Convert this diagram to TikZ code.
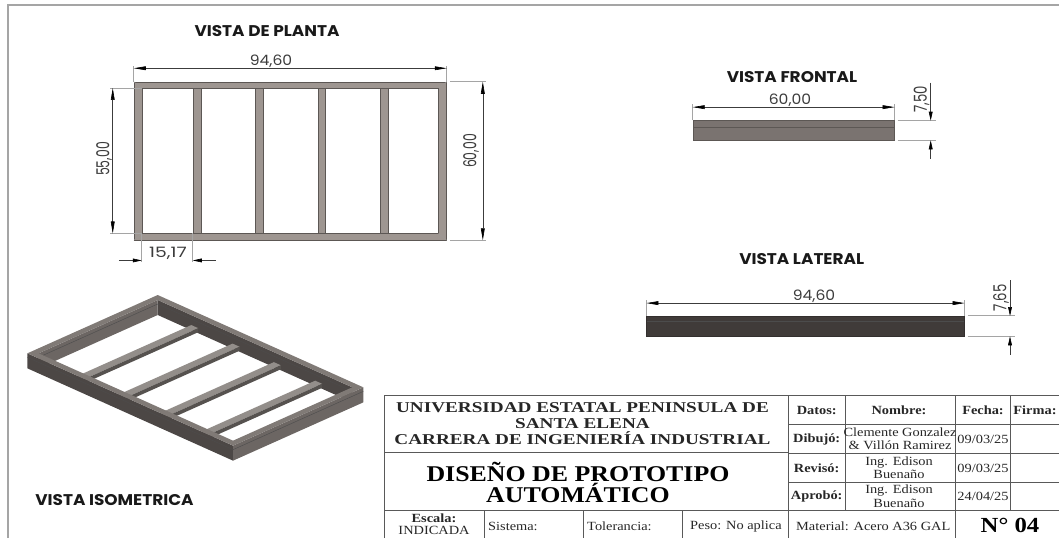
\documentclass[tikz,border=0pt]{standalone}
\usepackage{fontspec}
\usepackage{xcolor}
\usetikzlibrary{arrows.meta}
\setmainfont{Liberation Serif}[FakeStretch=1.15]
\setsansfont{Poppins}[FakeStretch=1.09]
\newfontfamily\anchafont{Liberation Serif}[FakeStretch=1.28]
\definecolor{marcogris}{RGB}{165, 165, 165}
\definecolor{acero}{RGB}{158, 150, 145}
\definecolor{aceroborde}{RGB}{92, 87, 84}
\definecolor{cotagris}{RGB}{60, 60, 60}
\definecolor{frontalgris}{RGB}{122, 115, 112}
\definecolor{lateralgris}{RGB}{64, 59, 57}
\definecolor{isotapa}{RGB}{128, 122, 118}
\definecolor{isomuroa}{RGB}{76, 71, 69}
\definecolor{isomurob}{RGB}{108, 102, 99}

\begin{document}
\begin{tikzpicture}[x=1pt, y=-1pt,
    vista/.style={font=\sffamily\bfseries\fontsize{15.5}{16}\selectfont, text=black!90, inner sep=0pt},
    cota/.style={font=\sffamily\fontsize{14.3}{15}\selectfont, text=cotagris, inner sep=0pt},
    cotav/.style={cota, rotate=90},
    dim/.style={draw=cotagris, line width=0.6pt, {Stealth[length=12pt,width=3.8pt,inset=0pt,black]}-{Stealth[length=12pt,width=3.8pt,inset=0pt,black]}},
    flecha/.style={draw=cotagris, line width=0.6pt, -{Stealth[length=9pt,width=3.8pt,inset=0pt,black]}},
    aux/.style={draw=marcogris, line width=0.7pt},
    barra/.style={draw=aceroborde, line width=0.5pt, fill=acero, inner sep=0pt, minimum height=145pt},
    tabla/.style={draw=black!65, line width=0.7pt},
    celda/.style={font=\fontsize{12.5}{13.5}\selectfont, inner sep=0pt, align=center, text=black!85},
    celdab/.style={celda, font=\bfseries\fontsize{12.5}{13.5}\selectfont},
    encabezado/.style={celda, font=\anchafont\bfseries\fontsize{15}{16}\selectfont},
    titulo/.style={celda, font=\bfseries\fontsize{22.5}{21.5}\selectfont, text=black}]
    \useasboundingbox (0,0) rectangle (1059,538);

    % Marco
    \draw[marcogris, line width=1.5pt] (8,538) -- (8,5) -- (1059,5);

    % Vista de planta
    \node[vista] (tplanta) at (267,31) {VISTA DE PLANTA};
    \node[draw=aceroborde, line width=0.5pt, fill=acero, inner sep=0pt, minimum width=312.5pt, minimum height=158pt] (planta) at (290.3,161) {};
    \node[draw=aceroborde, line width=0.5pt, fill=white, inner sep=0pt, minimum width=296pt, minimum height=145pt] (hueco) at (290,160.7) {};
    \draw[aceroborde!60, line width=0.4pt] (planta.north west) -- (hueco.north west) (planta.north east) -- (hueco.north east)
        (planta.south west) -- (hueco.south west) (planta.south east) -- (hueco.south east);
    \node[barra, minimum width=8pt] (barra1) at (197,160.7) {};
    \node[barra, minimum width=8pt] (barra2) at (259,160.7) {};
    \node[barra, minimum width=7.5pt] (barra3) at (321.5,160.7) {};
    \node[barra, minimum width=8pt] (barra4) at (384,160.7) {};

    % Cotas de planta
    \draw[aux] (planta.north west) -- ++(0,-16);
    \draw[aux] (planta.north east) -- ++(0,-16);
    \draw[dim] ([yshift=13.5pt]planta.north west) -- ([yshift=13.5pt]planta.north east);
    \node[cota] (c9460) at (271,61) {94,60};
    \draw[aux] (planta.north east) ++(3,0) -- ++(36,0);
    \draw[aux] (planta.south east) ++(3,0) -- ++(36,0);
    \draw[dim] ([xshift=36pt]planta.north east) -- ([xshift=36pt]planta.south east);
    \node[cotav] (c6000) at (471,151) {\scalebox{0.8}[1.25]{60,00}};
    \draw[aux] (hueco.north west) -- ++(-32,0);
    \draw[aux] (hueco.south west) -- ++(-32,0);
    \draw[dim] ([xshift=-29pt]hueco.north west) -- ([xshift=-29pt]hueco.south west);
    \node[cotav] (c5500) at (104,159) {\scalebox{0.8}[1.25]{55,00}};
    \draw[aux] (hueco.south west) -- ++(0,29);
    \draw[aux] (barra1.south west) -- ++(0,29);
    \coordinate (c1a) at ([xshift=-23pt,yshift=-27pt]hueco.south west);
    \coordinate (c1b) at ([yshift=-27pt]hueco.south west);
    \coordinate (c1c) at ([yshift=-27pt]barra1.south west);
    \coordinate (c1d) at ([xshift=23pt,yshift=-27pt]barra1.south west);
    \draw[flecha] (c1a) -- (c1b);
    \draw[flecha] (c1d) -- (c1c);
    \node[cota] (c1517) at (168,253) {\scalebox{1.2}[1]{15,17}};

    % Vista frontal
    \node[vista] (tfrontal) at (792,76.7) {VISTA FRONTAL};
    \node[draw=aceroborde, line width=0.5pt, fill=frontalgris, inner sep=0pt, minimum width=201.5pt, minimum height=19.6pt] (frontal) at (793.6,130.5) {};
    \draw[aceroborde, line width=0.7pt] (693,127.3) -- (894.3,127.3);
    \draw[aux] (frontal.north west) -- ++(0,-16);
    \draw[aux] (frontal.north east) -- ++(0,-16);
    \draw[dim] ([yshift=13.3pt]frontal.north west) -- ([yshift=13.3pt]frontal.north east);
    \node[cota] (c6000b) at (790,100) {60,00};
    \draw[aux] (frontal.north east) ++(3,0) -- ++(38,0);
    \draw[aux] (frontal.south east) ++(3,0) -- ++(38,0);
    \coordinate (f1) at (930.7,82.7);
    \coordinate (f2) at (930.7,120.7);
    \coordinate (f3) at (930.7,158.7);
    \coordinate (f4) at (930.7,140.3);
    \draw[flecha] (f1) -- (f2);
    \draw[flecha] (f3) -- (f4);
    \node[cotav] (c750) at (921.7,99) {\scalebox{0.85}[1.25]{7,50}};

    % Vista lateral
    \node[vista] (tlateral) at (801.7,258.7) {VISTA LATERAL};
    \node[draw=lateralgris!80!black, line width=0.5pt, fill=lateralgris, inner sep=0pt, minimum width=317.6pt, minimum height=20.3pt] (lateral) at (805.5,326.2) {};
    \draw[black!70, line width=0.7pt] (646.7,321.7) -- (964.3,321.7);
    \draw[aux] (lateral.north west) -- ++(0,-16);
    \draw[aux] (lateral.north east) -- ++(0,-16);
    \draw[dim] ([yshift=12.7pt]lateral.north west) -- ([yshift=12.7pt]lateral.north east);
    \node[cota] (c9460b) at (814,296) {94,60};
    \draw[aux] (lateral.north east) ++(3,0) -- ++(47,0);
    \draw[aux] (lateral.south east) ++(3,0) -- ++(47,0);
    \coordinate (l1) at (1010,280);
    \coordinate (l2) at (1010,316);
    \coordinate (l3) at (1010,354.7);
    \coordinate (l4) at (1010,336.3);
    \draw[flecha] (l1) -- (l2);
    \draw[flecha] (l3) -- (l4);
    \node[cotav] (c765) at (1001,297.7) {\scalebox{0.85}[1.25]{7,65}};

    % Vista isometrica
    \node[vista] (tiso) at (114.5,500) {VISTA ISOMETRICA};
    \begin{scope}[shift={(157.7,295)}, x={(2.174pt,-0.976pt)}, y={(-2.172pt,-0.972pt)}, z={(0pt,2pt)}]
        \def\rw{2.56}
        \def\sa{92.04}
        \def\ta{57.44}
        % muros interiores
        \fill[isomuroa] (\rw,\rw,0) -- (\sa,\rw,0) -- (\sa,\rw,-7.5) -- (\rw,\rw,-7.5) -- cycle;
        \fill[isomurob] (\rw,\rw,0) -- (\rw,\ta,0) -- (\rw,\ta,-7.5) -- (\rw,\rw,-7.5) -- cycle;
        \draw[black!70, line width=0.4pt] (\rw,\ta,-2) -- (\rw,\rw,-2) -- (\sa,\rw,-2);
        % barras
        \foreach \s in {18,37,56,75} {
            \fill[isotapa!85!white] (\s,\rw,-5) -- ({\s+3.2},\rw,-5) -- ({\s+3.2},\ta,-5) -- (\s,\ta,-5) -- cycle;
            \fill[isomurob!80!black] ({\s+3.2},\rw,-5) -- ({\s+3.2},\ta,-5) -- ({\s+3.2},\ta,-7) -- ({\s+3.2},\rw,-7) -- cycle;
        }
        % muros exteriores
        \fill[isomuroa] (0,60,0) -- (94.6,60,0) -- (94.6,60,-7.5) -- (0,60,-7.5) -- cycle;
        \fill[isomurob] (94.6,0,0) -- (94.6,60,0) -- (94.6,60,-7.5) -- (94.6,0,-7.5) -- cycle;
        \draw[black!70, line width=0.4pt] (0,60,-2) -- (94.6,60,-2) -- (94.6,0,-2);
        % tapa
        \fill[isotapa, even odd rule] (0,0,0) -- (94.6,0,0) -- (94.6,60,0) -- (0,60,0) -- cycle
            (\rw,\rw,0) -- (\sa,\rw,0) -- (\sa,\ta,0) -- (\rw,\ta,0) -- cycle;
    \end{scope}

    % Cajetin
    \draw[tabla] (384,538) -- (384,395) -- (1059,395);
    \draw[tabla] (384,452.6) -- (788.3,452.6) (384,510.2) -- (1059,510.2);
    \draw[tabla] (788.3,424.3) -- (1059,424.3) (788.3,453.3) -- (1059,453.3) (788.3,482.3) -- (1059,482.3);
    \foreach \x in {484.3,583.3,682.3} \draw[tabla] (\x,510.2) -- (\x,538);
    \draw[tabla] (788.3,395) -- (788.3,538);
    \draw[tabla] (845,395) -- (845,510.2);
    \draw[tabla] (955.7,395) -- (955.7,538);
    \draw[tabla] (1010.7,395) -- (1010.7,510.2);

    \node[encabezado] (univ) at (582.5,424) {UNIVERSIDAD ESTATAL PENINSULA DE\\SANTA ELENA\\CARRERA DE INGENIERÍA INDUSTRIAL};
    \node[titulo] (proto) at (578,482.5) {DISEÑO DE PROTOTIPO\\AUTOMÁTICO};
    \node[celdab] (escala) at (434,518) {Escala:};
    \node[celda] (indicada) at (434,530.7) {INDICADA};
    \node[celda, anchor=west] (sistema) at (488,526) {Sistema:};
    \node[celda, anchor=west] (tolerancia) at (587,526) {Tolerancia:};
    \node[celda, anchor=west] (peso) at (690,526) {Peso: No aplica};
    \node[celdab] (datos) at (816.7,410) {Datos:};
    \node[celdab] (nombre) at (899,410) {Nombre:};
    \node[celdab] (fecha) at (983,410) {Fecha:};
    \node[celdab] (firma) at (1035,410) {Firma:};
    \node[celdab] (dibujo) at (816.7,439) {Dibujó:};
    \node[celdab] (reviso) at (816.7,468) {Revisó:};
    \node[celdab] (aprobo) at (816.7,496.5) {Aprobó:};
    \node[celda] (n1) at (900,439) {Clemente Gonzalez\\\& Villón Ramirez};
    \node[celda] (n2) at (899,467.5) {Ing. Edison\\Buenaño};
    \node[celda] (n3) at (899,496) {Ing. Edison\\Buenaño};
    \node[celda] (f1t) at (983,439) {09/03/25};
    \node[celda] (f2t) at (983,468) {09/03/25};
    \node[celda] (f3t) at (983,496.5) {24/04/25};
    \node[celda, anchor=west] (material) at (796,526) {Material: Acero A36 GAL};
    \node[celdab, font=\bfseries\fontsize{21.5}{21.5}\selectfont, text=black] (numero) at (1010,525) {N° 04};
\end{tikzpicture}
\end{document}
